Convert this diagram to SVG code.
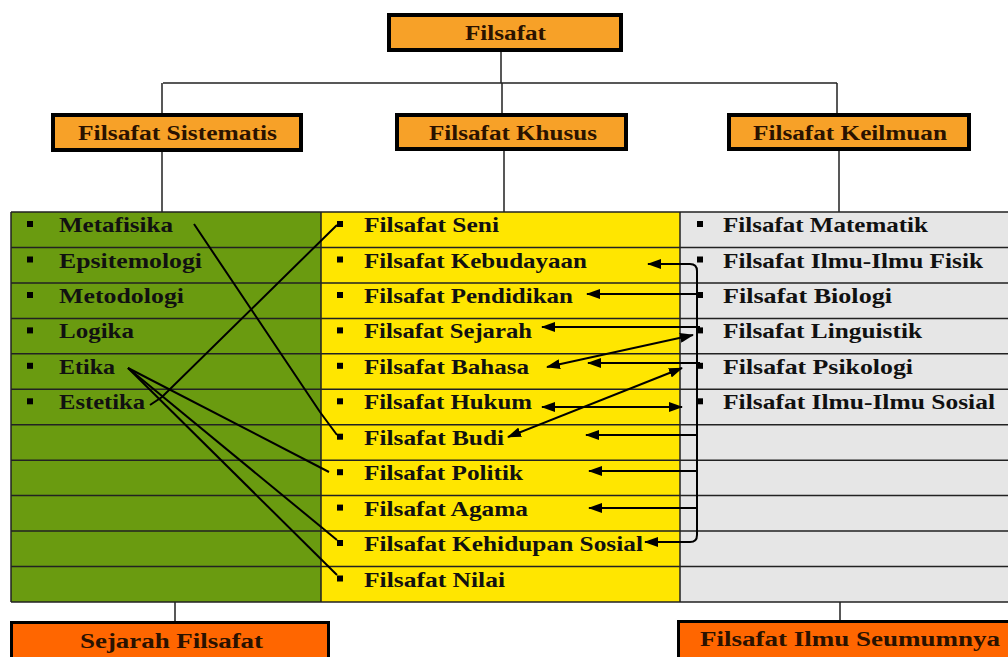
<svg xmlns="http://www.w3.org/2000/svg" width="1008" height="657" viewBox="0 0 1008 657">
<style>
.box{fill:#F7A128;stroke:#000;stroke-width:4}
.box2{fill:#FF6600;stroke:#000;stroke-width:3}
.bt{font-family:"Liberation Serif","Times New Roman",serif;font-weight:bold;font-size:20px;fill:#2a1200}
.rt{font-family:"Liberation Serif","Times New Roman",serif;font-weight:bold;font-size:21px;fill:#111}
.tree{stroke:#222;stroke-width:1.5;fill:none}
.grid{stroke:#222;stroke-width:1.5;fill:none}
.c{stroke:#000;stroke-width:2;fill:none}
.a{stroke:#000;stroke-width:2;fill:none;marker-end:url(#ah)}
.ab{stroke:#000;stroke-width:2;fill:none;marker-end:url(#ah);marker-start:url(#ah)}
.bul{fill:#000}
</style>
<defs>
<marker id="ah" markerUnits="userSpaceOnUse" markerWidth="14" markerHeight="10" refX="13" refY="5" orient="auto-start-reverse">
<path d="M0,0 L14,5 L0,10 Z" fill="#000"/>
</marker>
</defs>
<rect width="1008" height="657" fill="#fff"/>

<g id="tree-lines">
<path class="tree" d="M501,52 V83 M163,83 H837 M162,83 V115 M502,83 V115 M837,83 V115 M162,152 V212 M504,151 V212 M839,151 V212 M175,602 V623 M840,602 V622"/>
</g>

<g id="table">
<rect x="11" y="212" width="310" height="390" fill="#6A9B10"/>
<rect x="321" y="212" width="359" height="390" fill="#FFE600"/>
<rect x="680" y="212" width="335" height="390" fill="#E6E6E6"/>
<path class="grid" d="M11,212 H1010 M11,247.5 H1010 M11,282.9 H1010 M11,318.4 H1010 M11,353.8 H1010 M11,389.3 H1010 M11,424.7 H1010 M11,460.2 H1010 M11,495.6 H1010 M11,531.1 H1010 M11,566.5 H1010 M11,602 H1010 M11,212 V602 M321,212 V602 M680,212 V602"/>
</g>

<g id="node-filsafat">
<rect class="box" x="389" y="15" width="232" height="35"/>
<text class="bt" x="465" y="40" textLength="81" lengthAdjust="spacingAndGlyphs">Filsafat</text>
</g>
<g id="node-sistematis">
<rect class="box" x="53" y="115" width="248" height="35"/>
<text class="bt" x="78" y="140" textLength="199" lengthAdjust="spacingAndGlyphs">Filsafat Sistematis</text>
</g>
<g id="node-khusus">
<rect class="box" x="397" y="115" width="229" height="34"/>
<text class="bt" x="429" y="140" textLength="168" lengthAdjust="spacingAndGlyphs">Filsafat Khusus</text>
</g>
<g id="node-keilmuan">
<rect class="box" x="729" y="115" width="240" height="34"/>
<text class="bt" x="753" y="140" textLength="194" lengthAdjust="spacingAndGlyphs">Filsafat Keilmuan</text>
</g>
<g id="node-sejarah-filsafat">
<rect class="box2" x="11.5" y="622.5" width="317" height="45"/>
<text class="bt" x="80" y="648" textLength="183" lengthAdjust="spacingAndGlyphs">Sejarah Filsafat</text>
</g>
<g id="node-ilmu-seumumnya">
<rect class="box2" x="678.5" y="621.5" width="345" height="45"/>
<text class="bt" x="700" y="646" textLength="300" lengthAdjust="spacingAndGlyphs">Filsafat Ilmu Seumumnya</text>
</g>

<g id="list-sistematis">
<rect class="bul" x="27" y="221" width="6" height="6"/><text class="rt" x="59" y="232" textLength="114" lengthAdjust="spacingAndGlyphs">Metafisika</text>
<rect class="bul" x="27" y="256.5" width="6" height="6"/><text class="rt" x="59" y="267.5" textLength="143" lengthAdjust="spacingAndGlyphs">Epsitemologi</text>
<rect class="bul" x="27" y="292" width="6" height="6"/><text class="rt" x="59" y="303" textLength="125" lengthAdjust="spacingAndGlyphs">Metodologi</text>
<rect class="bul" x="27" y="327.4" width="6" height="6"/><text class="rt" x="59" y="338.4" textLength="75" lengthAdjust="spacingAndGlyphs">Logika</text>
<rect class="bul" x="27" y="362.8" width="6" height="6"/><text class="rt" x="59" y="373.8" textLength="56" lengthAdjust="spacingAndGlyphs">Etika</text>
<rect class="bul" x="27" y="398.3" width="6" height="6"/><text class="rt" x="59" y="409.3" textLength="86" lengthAdjust="spacingAndGlyphs">Estetika</text>
</g>

<g id="list-khusus">
<rect class="bul" x="337" y="221" width="6" height="6"/><text class="rt" x="364" y="232" textLength="135" lengthAdjust="spacingAndGlyphs">Filsafat Seni</text>
<rect class="bul" x="337" y="256.5" width="6" height="6"/><text class="rt" x="364" y="267.5" textLength="223" lengthAdjust="spacingAndGlyphs">Filsafat Kebudayaan</text>
<rect class="bul" x="337" y="292" width="6" height="6"/><text class="rt" x="364" y="303" textLength="209" lengthAdjust="spacingAndGlyphs">Filsafat Pendidikan</text>
<rect class="bul" x="337" y="327.4" width="6" height="6"/><text class="rt" x="364" y="338.4" textLength="168" lengthAdjust="spacingAndGlyphs">Filsafat Sejarah</text>
<rect class="bul" x="337" y="362.8" width="6" height="6"/><text class="rt" x="364" y="373.8" textLength="165" lengthAdjust="spacingAndGlyphs">Filsafat Bahasa</text>
<rect class="bul" x="337" y="398.3" width="6" height="6"/><text class="rt" x="364" y="409.3" textLength="168" lengthAdjust="spacingAndGlyphs">Filsafat Hukum</text>
<rect class="bul" x="337" y="433.7" width="6" height="6"/><text class="rt" x="364" y="444.7" textLength="140" lengthAdjust="spacingAndGlyphs">Filsafat Budi</text>
<rect class="bul" x="337" y="469.2" width="6" height="6"/><text class="rt" x="364" y="480.2" textLength="159" lengthAdjust="spacingAndGlyphs">Filsafat Politik</text>
<rect class="bul" x="337" y="504.6" width="6" height="6"/><text class="rt" x="364" y="515.6" textLength="164" lengthAdjust="spacingAndGlyphs">Filsafat Agama</text>
<rect class="bul" x="337" y="540" width="6" height="6"/><text class="rt" x="364" y="551" textLength="279" lengthAdjust="spacingAndGlyphs">Filsafat Kehidupan Sosial</text>
<rect class="bul" x="337" y="575.5" width="6" height="6"/><text class="rt" x="364" y="586.5" textLength="141" lengthAdjust="spacingAndGlyphs">Filsafat Nilai</text>
</g>

<g id="list-keilmuan">
<rect class="bul" x="697" y="221" width="6" height="6"/><text class="rt" x="723" y="232" textLength="205" lengthAdjust="spacingAndGlyphs">Filsafat Matematik</text>
<rect class="bul" x="697" y="256.5" width="6" height="6"/><text class="rt" x="723" y="267.5" textLength="260" lengthAdjust="spacingAndGlyphs">Filsafat Ilmu-Ilmu Fisik</text>
<rect class="bul" x="697" y="292" width="6" height="6"/><text class="rt" x="723" y="303" textLength="169" lengthAdjust="spacingAndGlyphs">Filsafat Biologi</text>
<rect class="bul" x="697" y="327.4" width="6" height="6"/><text class="rt" x="723" y="338.4" textLength="199" lengthAdjust="spacingAndGlyphs">Filsafat Linguistik</text>
<rect class="bul" x="697" y="362.8" width="6" height="6"/><text class="rt" x="723" y="373.8" textLength="190" lengthAdjust="spacingAndGlyphs">Filsafat Psikologi</text>
<rect class="bul" x="697" y="398.3" width="6" height="6"/><text class="rt" x="723" y="409.3" textLength="272" lengthAdjust="spacingAndGlyphs">Filsafat Ilmu-Ilmu Sosial</text>
</g>

<g id="connectors">
<path class="c" d="M194,224 L320,412 L337,435"/>
<path class="c" d="M150,405 L162,397 L337,225"/>
<path class="c" d="M128,368 L329,472"/>
<path class="c" d="M128,368 L337,540"/>
<path class="c" d="M128,368 L337,575"/>
<path class="ab" d="M648,264 H690 Q697,264 697,271 V535 Q697,542 690,542 H645"/>
<path class="a" d="M700,294 H587"/>
<path class="a" d="M700,327 H542"/>
<path class="ab" d="M547,367 L693,335"/>
<path class="a" d="M700,363 H588"/>
<path class="ab" d="M542,407 H682"/>
<path class="ab" d="M508,437 L682,368"/>
<path class="a" d="M697,435 H586"/>
<path class="a" d="M697,471 H589"/>
<path class="a" d="M697,508 H589"/>
</g>
</svg>
